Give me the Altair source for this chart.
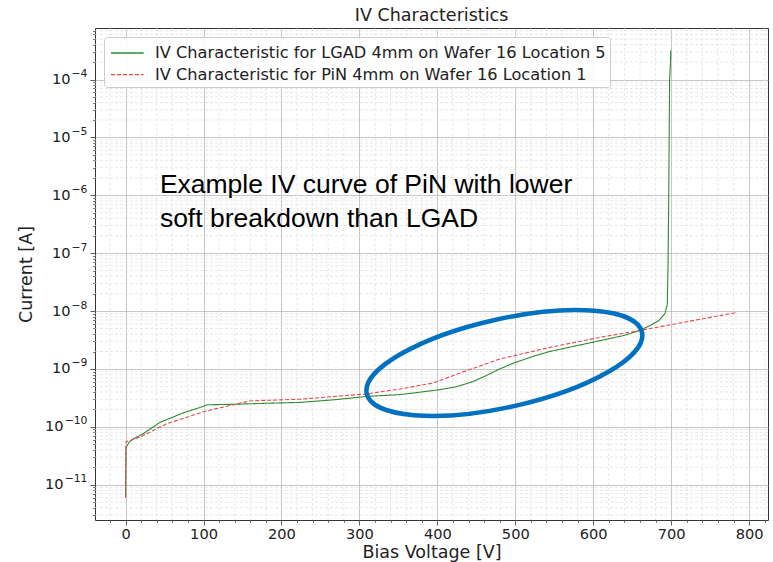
import json
import altair as alt
import pandas as pd

# ---------------- data ----------------
series_names = [
    "IV Characteristic for LGAD 4mm on Wafer 16 Location 5",
    "IV Characteristic for PiN 4mm on Wafer 16 Location 1",
]
series_colors = ["#2e8b2e", "#e5484a"]

lgad_v = [0, 0.5, 5, 10, 22, 44, 74, 95, 105, 138, 180, 224, 270, 309, 352, 399,
          424, 445, 463, 480, 497, 523, 544, 600, 640, 659, 675, 685, 692, 695, 696,
          697, 697.5, 698, 699, 699.5]
lgad_i = [6e-12, 4.4e-11, 5.5e-11, 6.2e-11, 7.5e-11, 1.19e-10, 1.74e-10, 2.15e-10,
          2.4e-10, 2.45e-10, 2.55e-10, 2.64e-10, 2.95e-10, 3.35e-10, 3.6e-10, 4.3e-10,
          4.9e-10, 6.0e-10, 7.7e-10, 1.0e-9, 1.25e-9, 1.65e-9, 2.0e-9, 2.9e-9, 3.8e-9,
          4.6e-9, 5.8e-9, 7.0e-9, 9.0e-9, 1.3e-8, 6e-8, 1.3e-6, 1.3e-5, 1.0e-4, 1.8e-4,
          3.2e-4]

pin_v = [0, 0.5, 18, 52, 102, 138, 159, 224, 309, 352, 394, 416, 437, 480, 544,
         608, 659, 711, 785]
pin_i = [6e-12, 5.5e-11, 6.6e-11, 1.12e-10, 1.86e-10, 2.4e-10, 2.8e-10, 3.0e-10,
         3.7e-10, 4.5e-10, 5.7e-10, 7.3e-10, 9.3e-10, 1.48e-9, 2.35e-9, 3.5e-9,
         4.6e-9, 6.2e-9, 9.5e-9]

x_major = [0, 100, 200, 300, 400, 500, 600, 700, 800]
x_minor = [v for v in range(-20, 821, 20) if v % 100 != 0]
y_major = [1e-11, 1e-10, 1e-9, 1e-8, 1e-7, 1e-6, 1e-5, 1e-4]
y_label_base = "10"
y_exponents = ["−11", "−10", "−9", "−8", "−7", "−6", "−5", "−4"]
y_minor = [m * 10.0 ** e for e in range(-12, -3) for m in range(2, 10)]

x_domain = [-39.25, 824.25]
y_domain = [10 ** -11.61, 10 ** -3.11]
y_minor = [v for v in y_minor if y_domain[0] < v < y_domain[1]]

annotation_text = "Example IV curve of PiN with lower\nsoft breakdown than LGAD"
annotation_v = [44]
annotation_i = [1.08e-6]

ellipse_v = [486]
ellipse_i = [1.265e-9]

# ---------------- tables ----------------
rows = []
for k, (vs, is_) in enumerate([(lgad_v, lgad_i), (pin_v, pin_i)]):
    for j, (v, i) in enumerate(zip(vs, is_)):
        rows.append({"series": series_names[k], "v": v, "i": i, "idx": j})
curves = pd.DataFrame(rows)

W, H = 673, 492
FONT = "DejaVu Sans"
TXT = "#222"

xscale = alt.Scale(domain=x_domain, nice=False, zero=False)
yscale = alt.Scale(type="log", domain=y_domain, nice=False)

# minor grid + minor ticks
minor_x = alt.Chart(pd.DataFrame({"v": x_minor})).mark_rule(
    color="#dedede", strokeDash=[3, 2], strokeWidth=0.7
).encode(
    x=alt.X("v:Q", scale=xscale,
            axis=alt.Axis(orient="bottom", values=x_minor, labels=False, ticks=True,
                          tickSize=2.5, tickColor="#444", tickWidth=0.7, grid=False,
                          domain=False, title=None))
)
minor_y = alt.Chart(pd.DataFrame({"i": y_minor})).mark_rule(
    color="#dedede", strokeDash=[3, 2], strokeWidth=0.7
).encode(
    y=alt.Y("i:Q", scale=yscale,
            axis=alt.Axis(orient="left", values=y_minor, labels=False, ticks=True,
                          tickSize=2.5, tickColor="#444", tickWidth=0.7, grid=False,
                          domain=False, title=None))
)

# exponent labels of the y axis (superscripts)
exp_expr = json.dumps(y_exponents) + "[round(log(datum.value)/LN10)+11]"
exp_axis = alt.Chart(pd.DataFrame({"i": y_major})).mark_rule(opacity=0).encode(
    y=alt.Y("i:Q", scale=yscale,
            axis=alt.Axis(orient="left", values=y_major, labelExpr=exp_expr,
                          ticks=False, grid=False, domain=False, title=None,
                          labelFont=FONT, labelFontSize=10.8, labelColor=TXT,
                          labelPadding=8, labelOffset=-6))
)

ellipse_path = ("M 1 0 C 1 0.1729 0.5523 0.313 0 0.313 "
                "C -0.5523 0.313 -1 0.1729 -1 0 "
                "C -1 -0.1729 -0.5523 -0.313 0 -0.313 "
                "C 0.5523 -0.313 1 -0.1729 1 0 Z")
legend_path = "M -0.82 0 L 2.15 0"

legend = alt.Legend(
    title=None, orient="none", legendX=9, legendY=9,
    symbolType=legend_path, symbolSize=484, symbolStrokeWidth=1.3,
    labelFont=FONT, labelFontSize=16.2, labelColor=TXT, labelOffset=23,
    labelLimit=0, padding=4, rowPadding=0.7,
    fillColor="rgba(255,255,255,0.85)", strokeColor="#cccccc", cornerRadius=3,
)

lines = alt.Chart(curves).mark_line(strokeWidth=1.1).encode(
    x=alt.X("v:Q", scale=xscale,
            axis=alt.Axis(orient="bottom", values=x_major, grid=True,
                          gridColor="#b8b8b8", gridWidth=0.8, tickSize=5,
                          tickColor="#333", tickWidth=0.8, domain=False,
                          labelFont=FONT, labelFontSize=14.6, labelColor=TXT,
                          labelPadding=1, title="Bias Voltage [V]",
                          titleFont=FONT, titleFontSize=17.5, titleFontWeight="normal",
                          titleColor=TXT, titlePadding=3)),
    y=alt.Y("i:Q", scale=yscale,
            axis=alt.Axis(orient="left", values=y_major, grid=True,
                          gridColor="#b8b8b8", gridWidth=0.8, tickSize=5,
                          tickColor="#333", tickWidth=0.8, domain=False,
                          labelExpr="'" + y_label_base + "'",
                          labelFont=FONT, labelFontSize=14.6, labelColor=TXT,
                          labelPadding={"condition": {"test": "datum.value < 1.5e-10",
                                                      "value": 27},
                                        "value": 20},
                          title="Current [A]",
                          titleFont=FONT, titleFontSize=17.5, titleFontWeight="normal",
                          titleColor=TXT, titlePadding=9)),
    color=alt.Color("series:N", scale=alt.Scale(domain=series_names, range=series_colors),
                    legend=legend),
    strokeDash=alt.StrokeDash("series:N",
                              scale=alt.Scale(domain=series_names, range=[[1, 0], [4, 2]]),
                              legend=legend),
    order=alt.Order("idx:Q"),
)

text = alt.Chart(pd.DataFrame({"v": annotation_v, "i": annotation_i,
                               "t": [annotation_text]})).mark_text(
    align="left", baseline="alphabetic", font="Liberation Sans", fontSize=26.5,
    lineHeight=33.5, lineBreak="\n", color="black"
).encode(
    x=alt.X("v:Q", scale=xscale, axis=None),
    y=alt.Y("i:Q", scale=yscale, axis=None),
    text="t:N",
)

ellipse = alt.Chart(pd.DataFrame({"v": ellipse_v, "i": ellipse_i})).mark_point(
    shape=ellipse_path, size=79524, angle=347.4, filled=False,
    color="#0070c0", strokeWidth=4.5, opacity=1
).encode(
    x=alt.X("v:Q", scale=xscale, axis=None),
    y=alt.Y("i:Q", scale=yscale, axis=None),
)

chart = alt.layer(minor_x, minor_y, exp_axis, lines, text, ellipse).resolve_axis(
    x="independent", y="independent"
).properties(
    width=W, height=H,
    autosize=alt.AutoSizeParams(type="none"),
    padding={"left": 95, "top": 28, "right": 5, "bottom": 42},
    title=alt.TitleParams("IV Characteristics", font=FONT, fontSize=17.5,
                          fontWeight="normal", color=TXT, anchor="middle", offset=3),
    background="white",
).configure_view(stroke="#333", strokeWidth=1)

chart.save("out.html", embed_options={"renderer": "svg", "actions": False})
